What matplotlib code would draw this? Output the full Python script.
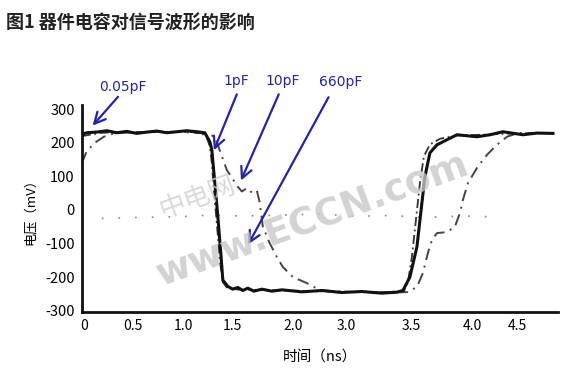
import matplotlib
matplotlib.use("Agg")
import matplotlib.pyplot as plt

plt.rcParams['font.family'] = ['Noto Sans CJK SC', 'DejaVu Sans']

# 0.05pF 实线
t_005 = [0.00, 0.05, 0.15, 0.25, 0.35, 0.45, 0.55, 0.65, 0.75, 0.85, 0.95, 1.05, 1.15,
         1.23, 1.28, 1.30, 1.33, 1.36, 1.39, 1.41, 1.46, 1.51, 1.56, 1.61, 1.66, 1.72,
         1.80, 1.90, 2.00, 2.20, 2.40, 2.60, 2.80, 3.00, 3.15, 3.21, 3.28, 3.35, 3.40,
         3.43, 3.48, 3.55, 3.65, 3.75, 3.95, 4.08, 4.21, 4.41, 4.55, 4.71]
v_005 = [225, 230, 232, 236, 230, 234, 228, 232, 235, 230, 233, 236, 233,
         230, 203, 179, 80, -20, -130, -209, -228, -236, -231, -240, -233, -242,
         -236, -242, -238, -244, -240, -246, -243, -248, -245, -240, -200, -110, 21,
         99, 170, 194, 209, 224, 218, 224, 233, 224, 229, 228]

# 1pF
t_1p = [0.00, 0.20, 0.50, 0.80, 1.10, 1.20, 1.25, 1.28, 1.30, 1.32, 1.35, 1.38, 1.41,
        1.46, 1.60, 2.00, 2.50, 3.00, 3.22, 3.26, 3.30, 3.34, 3.38, 3.42, 3.48, 3.58,
        3.75, 4.00, 4.30, 4.71]
v_1p = [220, 230, 232, 233, 232, 228, 215, 190, 140, 60, -40, -150, -215,
        -235, -238, -240, -243, -245, -242, -215, -140, -30, 80, 160, 195, 212,
        222, 224, 228, 229]

# 10pF
t_10p = [0.00, 0.05, 0.13, 0.22, 0.30, 0.40, 0.70, 1.00, 1.25, 1.33, 1.45, 1.56, 1.60,
         1.65, 1.70, 1.75, 1.78, 1.81, 1.88, 1.95, 2.01, 2.11, 2.25, 2.38, 2.60, 3.00,
         3.25, 3.35, 3.41, 3.46, 3.50, 3.55, 3.65, 3.73, 3.78, 3.81, 3.86, 3.95, 4.05,
         4.15, 4.25, 4.35, 4.50]
v_10p = [140, 175, 200, 218, 226, 230, 232, 232, 228, 218, 119, 69, 55,
         65, 52, 58, 20, -50, -100, -140, -170, -200, -218, -239, -244, -246,
         -245, -230, -188, -128, -90, -69, -66, -50, -9, 30, 80, 125, 164,
         194, 218, 228, 229]

# 660pF
t_660 = [0.20, 0.60, 1.00, 1.30, 1.45, 1.75, 2.05, 2.40, 2.80, 2.95, 3.15, 3.46, 3.85, 4.05]
v_660 = [-25, -22, -20, -15, -18, -17, -15, -12, -20, -16, -18, -22, -18, -20]

xtick_labels = ['0', '0.5', '1.0', '1.5', '2.0', '3.0', '3.5', '4.0', '4.5']
xtick_pos = [0.02, 0.51, 1.02, 1.51, 2.11, 2.64, 3.29, 3.90, 4.35]
yticks = [-300, -200, -100, 0, 100, 200, 300]

# 标注：文字位置和箭头
labels = ['0.05pF', '1pF', '10pF', '660pF']
label_xy = [(0.41, 367), (1.54, 385), (2.01, 385), (2.59, 382)]
arrow_from = [(0.38, 343), (1.56, 352), (1.98, 352), (2.48, 343)]
arrow_to = [(0.09, 245), (1.31, 170), (1.58, 80), (1.65, -110)]

fig = plt.figure(figsize=(5.8, 3.8), dpi=100)
ax = fig.add_axes([0.141, 0.179, 0.821, 0.545])

ax.plot(t_660, v_660, color='#888888', lw=1.2, ls=(0, (1, 9)))
ax.plot(t_10p, v_10p, color='#444444', lw=1.4, ls=(0, (6, 3, 1, 3)))
ax.plot(t_1p, v_1p, color='#333333', lw=1.3, ls=(0, (5, 2, 1, 2)))
ax.plot(t_005, v_005, color='#111111', lw=2.2)

ax.set_xlim(0, 4.76)
ax.set_ylim(-304, 313)
ax.set_yticks(yticks)
ax.set_yticklabels([str(v) for v in yticks], fontsize=10.5)
ax.set_xticks(xtick_pos)
ax.set_xticklabels(xtick_labels, fontsize=10)
ax.tick_params(length=0, pad=5)
for s in ['top', 'right']:
    ax.spines[s].set_visible(False)
for s in ['left', 'bottom']:
    ax.spines[s].set_linewidth(2)
    ax.spines[s].set_color('#111111')

ax.set_xlabel('时间（ns）', fontsize=10.5, labelpad=13)
ax.set_ylabel('电压（mV）', fontsize=9.5, labelpad=6)

blue = '#2424a8'
for lab, xy, a0, a1 in zip(labels, label_xy, arrow_from, arrow_to):
    ax.text(xy[0], xy[1], lab, color=blue, fontsize=10, ha='center', va='center',
            family=['DejaVu Sans'], clip_on=False)
    ax.annotate('', xy=a1, xytext=a0,
                arrowprops=dict(arrowstyle='->,head_length=0.8,head_width=0.4',
                                color=blue, lw=1.6),
                annotation_clip=False)

# 水印
fig.text(0.34, 0.48, '中电网', fontsize=19, color='#d0d0d0', rotation=20,
         ha='center', va='center', alpha=0.8)
fig.text(0.54, 0.42, 'www.ECCN.com', fontsize=27, color='#c8c8c8', rotation=20,
         ha='center', va='center', fontweight='bold', alpha=0.8,
         family=['DejaVu Sans'])

fig.text(0.01, 0.94, '图1 器件电容对信号波形的影响', fontsize=13, fontweight='bold',
         color='#222222', ha='left', va='center')

fig.savefig('out.png', dpi=100)
